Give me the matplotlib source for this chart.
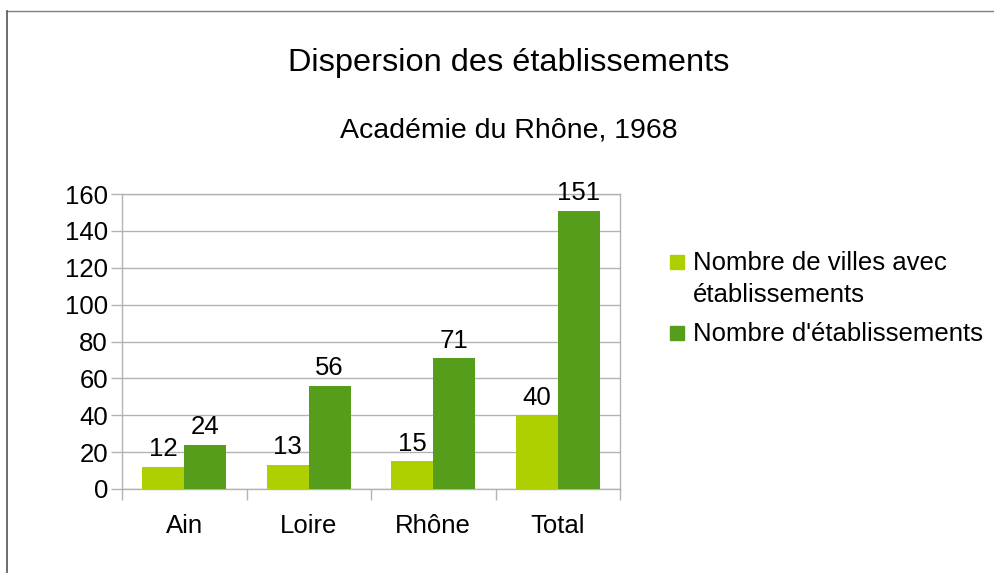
import matplotlib.pyplot as plt
import matplotlib.patches as mpatches
import numpy as np

plt.rcParams['font.family'] = ['Liberation Sans', 'DejaVu Sans']

categories = ['Ain', 'Loire', 'Rhône', 'Total']
villes = [12, 13, 15, 40]
etabs = [24, 56, 71, 151]
series_names = ['Nombre de villes avec\nétablissements', "Nombre d'établissements"]
yticks = [0, 20, 40, 60, 80, 100, 120, 140, 160]

light = '#aecf00'
dark = '#579d1c'
grid_col = '#b3b3b3'
fs = 18.5

fig = plt.figure(figsize=(9.95, 5.73), dpi=100)
ax = fig.add_axes([122/995, 1-489/573, (620-122)/995, (489-194)/573])

x = np.arange(len(categories))
w = 0.337
b1 = ax.bar(x - w/2, villes, w, color=light, zorder=3)
b2 = ax.bar(x + w/2, etabs, w, color=dark, zorder=3)

for bars in (b1, b2):
    for r in bars:
        ax.annotate(f'{int(r.get_height())}', (r.get_x() + r.get_width()/2, r.get_height()),
                    xytext=(0, 4), textcoords='offset points', ha='center', va='bottom',
                    fontsize=fs)

ax.set_xlim(-0.5, len(categories) - 0.5)
ax.set_ylim(0, 160)
ax.set_yticks(yticks)
ax.set_xticks(x)
ax.set_xticklabels(categories)
ax.set_xticks(np.arange(len(categories) + 1) - 0.5, minor=True)
ax.tick_params(axis='x', which='major', length=0, pad=18, labelsize=fs)
ax.tick_params(axis='x', which='minor', length=8, color=grid_col, width=1)
ax.tick_params(axis='y', length=8, color=grid_col, width=1, labelsize=fs, pad=2)
ax.grid(axis='y', color=grid_col, linewidth=1, zorder=0)
for s in ax.spines.values():
    s.set_color(grid_col)
    s.set_linewidth(1)

fig.text(509/995, 1-63/573, 'Dispersion des établissements', ha='center', va='center', fontsize=23.4)
fig.text(509/995, 1-130/573, 'Académie du Rhône, 1968', ha='center', va='center', fontsize=20.5)

# legend: square aligned with the first text line, as in the source chart
leg_rows = [262, 333]
for name, col, yc in zip(series_names, [light, dark], leg_rows):
    fig.patches.append(mpatches.Rectangle((670/995, 1-(yc+7)/573), 14/995, 14/573,
                                          color=col, transform=fig.transFigure, figure=fig))
    fig.text(693/995, 1-(yc-11)/573, name, ha='left', va='top', fontsize=fs, linespacing=1.42)

# outer frame lines (top and left)
fig.add_artist(plt.Line2D([7/995, 1], [1-11/573, 1-11/573], color='#808080', linewidth=1, transform=fig.transFigure))
fig.add_artist(plt.Line2D([7/995, 7/995], [0, 1-11/573], color='#555555', linewidth=1.2, transform=fig.transFigure))

fig.savefig('out.png', dpi=100)
